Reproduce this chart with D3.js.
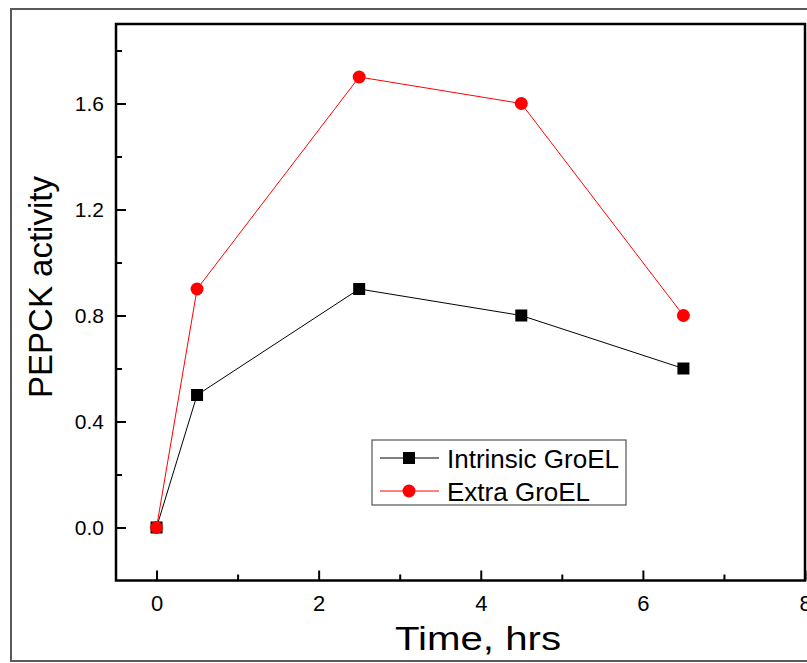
<!DOCTYPE html>
<html>
<head>
<meta charset="utf-8">
<script src="https://cdn.jsdelivr.net/npm/d3@7"></script>
<style>
  body { margin: 0; background: #fff; }
  svg { display: block; font-family: "Liberation Sans", Arial, sans-serif; }
</style>
</head>
<body>
<div id="chart"></div>
<script>
// data
const time = [0, 0.5, 2.5, 4.5, 6.5];
const intrinsic = [0, 0.5, 0.9, 0.8, 0.6];
const extra = [0, 0.9, 1.7, 1.6, 0.8];
const seriesNames = ["Intrinsic GroEL", "Extra GroEL"];
const xMajor = [0, 2, 4, 6, 8];
const xMinor = [1, 3, 5, 7];
const yMajor = [0, 0.4, 0.8, 1.2, 1.6];
const yMinor = [0.2, 0.6, 1.0, 1.4, 1.8];

const W = 807, H = 663;
const plot = {left: 116, top: 24, right: 805, bottom: 580.5};

const svg = d3.select("#chart")
    .append("svg")
    .attr("width", W)
    .attr("height", H);

// outer frame
svg.append("rect")
    .attr("x", 11).attr("y", 9)
    .attr("width", W + 20).attr("height", 652)
    .attr("fill", "none")
    .attr("stroke", "#5a5a5a")
    .attr("stroke-width", 2);

const x = d3.scaleLinear().domain([-0.5, 8]).range([plot.left, plot.right]);
const y = d3.scaleLinear().domain([-0.2, 1.9]).range([plot.bottom, plot.top]);

// y axis, ticks pointing inward
svg.append("g")
    .attr("transform", `translate(${plot.left},0)`)
    .call(d3.axisLeft(y).tickValues(yMajor).tickSize(-10).tickPadding(12)
        .tickFormat(d3.format(".1f")))
    .call(g => g.select(".domain").remove())
    .call(g => g.selectAll("line").attr("stroke-width", 2))
    .call(g => g.selectAll("text").attr("font-size", 21).attr("fill", "#000"));

svg.append("g")
    .attr("transform", `translate(${plot.left},0)`)
    .call(d3.axisLeft(y).tickValues(yMinor).tickSize(-6).tickFormat(""))
    .call(g => g.select(".domain").remove())
    .call(g => g.selectAll("line").attr("stroke-width", 2));

// x axis
svg.append("g")
    .attr("transform", `translate(0,${plot.bottom})`)
    .call(d3.axisBottom(x).tickValues(xMajor).tickSize(-10).tickPadding(15)
        .tickFormat(d3.format("d")))
    .call(g => g.select(".domain").remove())
    .call(g => g.selectAll("line").attr("stroke-width", 2))
    .call(g => g.selectAll("text").attr("font-size", 22).attr("fill", "#000"));

svg.append("g")
    .attr("transform", `translate(0,${plot.bottom})`)
    .call(d3.axisBottom(x).tickValues(xMinor).tickSize(-6).tickFormat(""))
    .call(g => g.select(".domain").remove())
    .call(g => g.selectAll("line").attr("stroke-width", 2));

// plot frame
svg.append("rect")
    .attr("x", plot.left).attr("y", plot.top)
    .attr("width", plot.right - plot.left)
    .attr("height", plot.bottom - plot.top)
    .attr("fill", "none")
    .attr("stroke", "#000")
    .attr("stroke-width", 2.5);

// axis titles
svg.append("text")
    .attr("transform", "translate(52,287) rotate(-90)")
    .attr("text-anchor", "middle")
    .attr("font-size", 33)
    .text("PEPCK activity");

svg.append("text")
    .attr("x", 478)
    .attr("y", 650)
    .attr("text-anchor", "middle")
    .attr("font-size", 34)
    .attr("textLength", 166)
    .attr("lengthAdjust", "spacingAndGlyphs")
    .text("Time, hrs");

const line = d3.line()
    .x(d => x(d[0]))
    .y(d => y(d[1]));

const blackPts = time.map((t, i) => [t, intrinsic[i]]);
const redPts = time.map((t, i) => [t, extra[i]]);

svg.append("path")
    .datum(blackPts)
    .attr("d", line)
    .attr("fill", "none")
    .attr("stroke", "#000")
    .attr("stroke-width", 1);

svg.selectAll(".sq")
    .data(blackPts)
    .enter().append("rect")
    .attr("class", "sq")
    .attr("x", d => x(d[0]) - 6)
    .attr("y", d => y(d[1]) - 6)
    .attr("width", 12).attr("height", 12)
    .attr("fill", "#000");

svg.append("path")
    .datum(redPts)
    .attr("d", line)
    .attr("fill", "none")
    .attr("stroke", "#ff0000")
    .attr("stroke-width", 1);

svg.selectAll(".dot")
    .data(redPts)
    .enter().append("circle")
    .attr("class", "dot")
    .attr("cx", d => x(d[0]))
    .attr("cy", d => y(d[1]))
    .attr("r", 6.5)
    .attr("fill", "#ff0000");

// legend
const legend = svg.append("g").attr("transform", "translate(372,440)");
legend.append("rect")
    .attr("width", 254).attr("height", 65)
    .attr("fill", "#fff")
    .attr("stroke", "#333")
    .attr("stroke-width", 1);

seriesNames.forEach(function (name, i) {
    const cy = 18 + i * 33;
    const col = i === 0 ? "#000" : "#ff0000";
    legend.append("line")
        .attr("x1", 8).attr("x2", 67)
        .attr("y1", cy).attr("y2", cy)
        .attr("stroke", col).attr("stroke-width", 1);
    if (i === 0) {
        legend.append("rect")
            .attr("x", 37 - 6).attr("y", cy - 6)
            .attr("width", 12).attr("height", 12)
            .attr("fill", col);
    } else {
        legend.append("circle")
            .attr("cx", 37).attr("cy", cy).attr("r", 6.5)
            .attr("fill", col);
    }
    legend.append("text")
        .attr("x", 75).attr("y", cy + 9.5)
        .attr("font-size", 26)
        .text(name);
});
</script>
</body>
</html>
